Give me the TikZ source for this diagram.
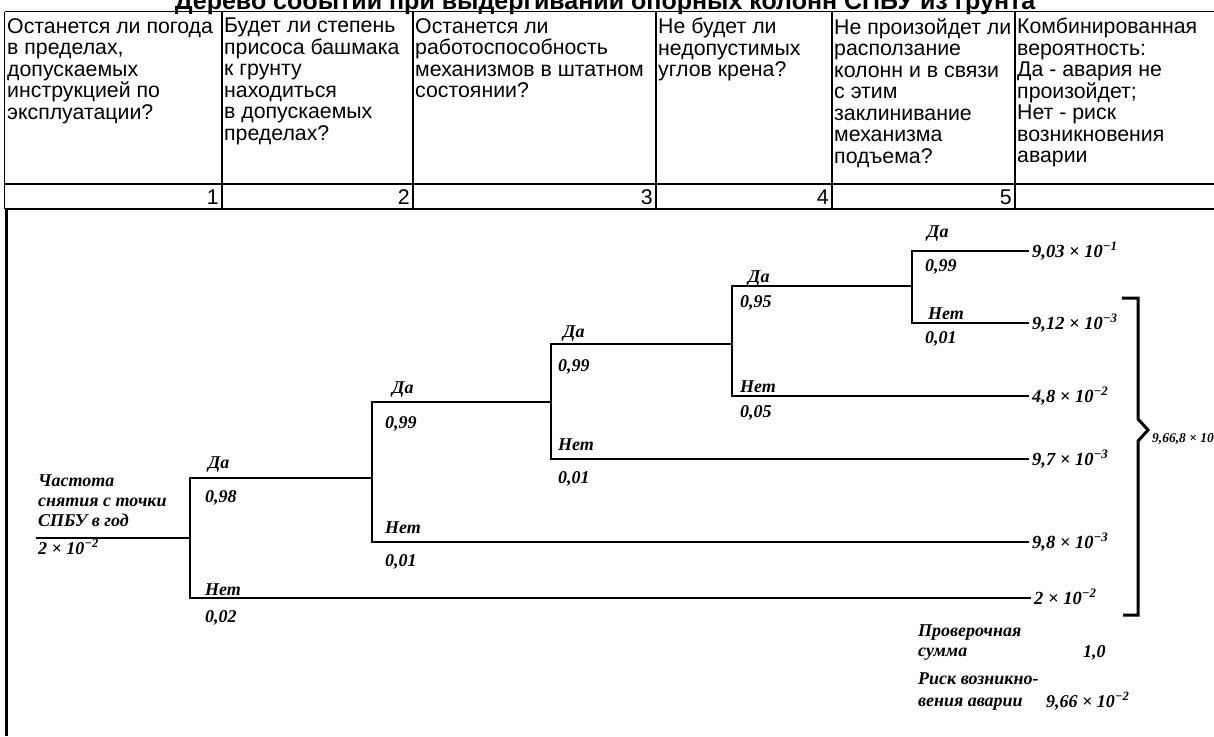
\documentclass[tikz,border=0pt]{standalone}
\usepackage{fontspec}
\setmainfont{Liberation Serif}
\newfontfamily\arialf{Liberation Sans}
\begin{document}
\begin{tikzpicture}[x=1pt,y=-1pt]
\useasboundingbox (0,0) rectangle (1214,736);
\tikzset{
 tbl/.style={line width=1.4pt},
 tl/.style={line width=2.8pt, line join=miter},
 hdr/.style={anchor=north west, inner sep=0, align=left, font=\arialf\fontsize{21.3}{21.5}\selectfont},
 num/.style={anchor=base east, inner sep=0, font=\arialf\fontsize{21.3}{21.5}\selectfont},
 lbl/.style={anchor=base west, inner sep=0, font=\bfseries\itshape\fontsize{18}{20}\selectfont},
 endl/.style={anchor=base west, inner sep=0, font=\bfseries\itshape\fontsize{18.5}{20}\selectfont},
}
% title
\node[anchor=base, inner sep=0, font=\arialf\bfseries\fontsize{25}{27}\selectfont] (title) at (605,9.5) {Дерево событий при выдергивании опорных колонн СПБУ из грунта};
% table
\draw[tbl] (4.5,11.5) -- (1214,11.5);
\draw[tbl] (4.5,184) -- (1214,184);
\draw[tbl] (4.5,209) -- (1214,209);
\draw[tbl] (4.5,11.5) -- (4.5,209);
\foreach \x in {222,413,656,832,1015} {\draw[tbl] (\x,11.5) -- (\x,209);}
\draw[line width=2.4pt] (6.5,209) -- (6.5,736);
\node[hdr] (h1) at (7,18) {Останется ли погода\\в пределах,\\допускаемых\\инструкцией по\\эксплуатации?};
\node[hdr] (h2) at (224,18) {Будет ли степень\\присоса башмака\\к грунту\\находиться\\в допускаемых\\пределах?};
\node[hdr] (h3) at (415,18) {Останется ли\\работоспособность\\механизмов в штатном\\состоянии?};
\node[hdr] (h4) at (658,18) {Не будет ли\\недопустимых\\углов крена?};
\node[hdr] (h5) at (834,18) {Не произойдет ли\\расползание\\колонн и в связи\\с этим\\заклинивание\\механизма\\подъема?};
\node[hdr] (h6) at (1017,18) {Комбинированная\\вероятность:\\Да - авария не\\произойдет;\\Нет - риск\\возникновения\\аварии};
\node[num] (n1) at (219,204) {1};
\node[num] (n2) at (410,204) {2};
\node[num] (n3) at (653,204) {3};
\node[num] (n4) at (829,204) {4};
\node[num] (n5) at (1012,204) {5};
% tree coordinates
\coordinate (r0) at (36,538);
\coordinate (j1) at (190,538);
\coordinate (d1) at (190,478);
\coordinate (k1) at (190,598);
\coordinate (j2) at (372,478);
\coordinate (d2) at (372,402);
\coordinate (k2) at (372,542);
\coordinate (j3) at (551,402);
\coordinate (d3) at (551,344);
\coordinate (k3) at (551,459);
\coordinate (j4) at (732,344);
\coordinate (d4) at (732,286);
\coordinate (k4) at (732,396);
\coordinate (j5) at (912,286);
\coordinate (d5) at (912,251);
\coordinate (k5) at (912,323);
\coordinate (t1) at (1029,251);
\coordinate (t2) at (1029,323);
\coordinate (t3) at (1029,396);
\coordinate (t4) at (1029,459);
\coordinate (t5) at (1029,542);
\coordinate (t6) at (1031,598);
% tree lines
\draw[tl] (r0) -- (j1);
\draw[tl] (j2) -- (d1) -- (k1) -- (t6);
\draw[tl] (j3) -- (d2) -- (k2) -- (t5);
\draw[tl] (j4) -- (d3) -- (k3) -- (t4);
\draw[tl] (j5) -- (d4) -- (k4) -- (t3);
\draw[tl] (t1) -- (d5) -- (k5) -- (t2);
% end labels
\node[endl] (e1) at ([shift={(3pt,-6pt)}]t1) {9,03 × 10\textsuperscript{−1}};
\node[endl] (e2) at ([shift={(3pt,-6pt)}]t2) {9,12 × 10\textsuperscript{−3}};
\node[endl] (e3) at ([shift={(3pt,-6pt)}]t3) {4,8 × 10\textsuperscript{−2}};
\node[endl] (e4) at ([shift={(3pt,-6pt)}]t4) {9,7 × 10\textsuperscript{−3}};
\node[endl] (e5) at ([shift={(3pt,-6pt)}]t5) {9,8 × 10\textsuperscript{−3}};
\node[endl] (e6) at ([shift={(3pt,-6pt)}]t6) {2 × 10\textsuperscript{−2}};
% root text
\node[lbl] (q1) at (38,486) {Частота};
\node[lbl] (q2) at (38,506) {снятия с точки};
\node[lbl] (q3) at (38,526) {СПБУ в год};
\node[lbl] (q4) at (38,554) {2 × 10\textsuperscript{−2}};
% branch labels
\node[lbl] (a1) at (208,468) {Да};
\node[lbl] (p1) at (205,502) {0,98};
\node[lbl] (b1) at (205,595) {Нет};
\node[lbl] (s1) at (205,622) {0,02};
\node[lbl] (a2) at (392,393) {Да};
\node[lbl] (p2) at (385,428) {0,99};
\node[lbl] (b2) at (385,533) {Нет};
\node[lbl] (s2) at (385,566) {0,01};
\node[lbl] (a3) at (563,337) {Да};
\node[lbl] (p3) at (558,371) {0,99};
\node[lbl] (b3) at (558,450) {Нет};
\node[lbl] (s3) at (558,483) {0,01};
\node[lbl] (a4) at (748,282) {Да};
\node[lbl] (p4) at (740,307) {0,95};
\node[lbl] (b4) at (740,392) {Нет};
\node[lbl] (s4) at (740,417) {0,05};
\node[lbl] (a5) at (927,237) {Да};
\node[lbl] (p5) at (925,271) {0,99};
\node[lbl] (b5) at (928,319) {Нет};
\node[lbl] (s5) at (925,343) {0,01};
% bracket
\coordinate (bt) at (1122,298);
\coordinate (bb) at (1123,615);
\coordinate (tip) at (1148,430);
\draw[line width=3pt, line join=miter] (bt) -- (1138,298) -- (1138,419) -- (tip) -- (1138,441) -- (1138,615) -- (bb);
\node[anchor=base west, inner sep=0, font=\bfseries\itshape\fontsize{13.5}{15}\selectfont] (sum) at (1152,442) {9,66,8 × 10};
% bottom texts
\node[lbl] (c1) at (918,636) {Проверочная};
\node[lbl] (c2) at (918,656) {сумма};
\node[lbl] (c3) at (1083,657) {1,0};
\node[lbl] (c4) at (918,684) {Риск возникно-};
\node[lbl] (c5) at (918,706) {вения аварии};
\node[lbl] (c6) at (1046,707) {9,66 × 10\textsuperscript{−2}};
\end{tikzpicture}
\end{document}
